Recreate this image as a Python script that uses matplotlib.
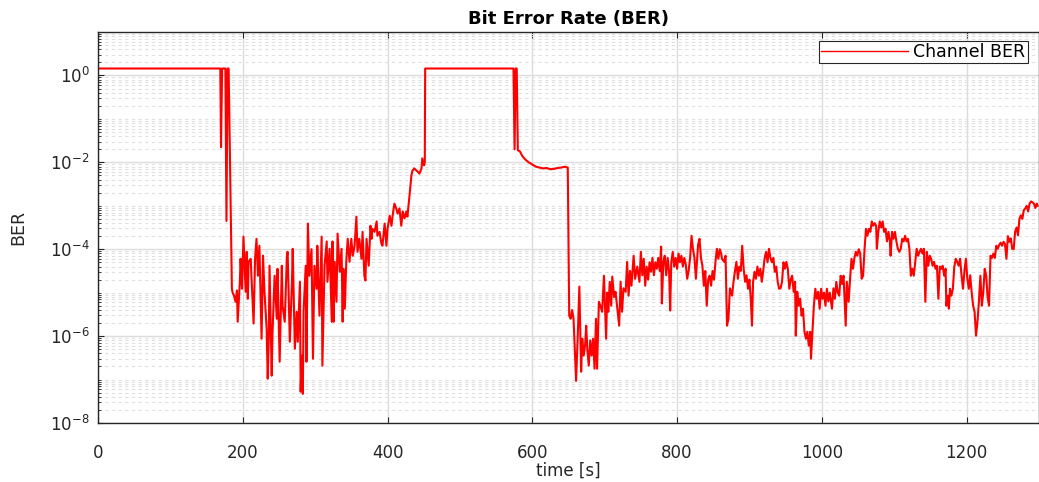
import numpy as np
import matplotlib.pyplot as plt
from matplotlib.ticker import LogLocator, NullFormatter, FixedLocator

# BER trace: (time [s], log10 BER)
seg_start = [(0, 0.16), (169, 0.16), (170, -1.65), (171.5, 0.16), (176, 0.16),
             (177.5, -3.35), (179, 0.16), (180.5, 0.16)]

seg_dip1 = [(185, -4.91), (186, -5.0), (188, -5.07), (190, -5.21), (192, -4.95),
            (193, -5.67), (196, -4.75), (197, -4.22), (199, -4.91), (201, -3.71),
            (204, -4.98), (205.5, -4.06), (207, -5.14), (208, -4.29), (211, -4.22),
            (212, -4.61), (215, -5.71), (217, -4.22), (219, -3.76), (221, -4.61),
            (223, -3.92), (226, -6.06), (228, -4.15), (230, -4.98), (233, -5.83),
            (234.5, -6.98), (236, -5.99), (237, -4.38), (240, -6.91), (241, -5.99),
            (244, -4.61), (247, -5.6), (248, -4.45), (251, -6.59), (254, -4.38),
            (255, -5.3), (258, -5.67), (261, -4.15), (262, -4.06), (265, -6.13),
            (268, -4.75), (269, -3.99), (272, -6.29), (274.5, -5.44), (276, -6.13),
            (279, -4.75), (280, -7.28), (281.5, -6.45), (283, -7.33), (284, -5.44),
            (287, -4.38), (288, -6.59), (290, -3.41), (292, -4.61), (295, -4.0),
            (297, -6.52), (299, -4.38), (302, -4.91), (303, -3.92), (306, -5.53),
            (309, -3.71), (310, -6.68), (313, -4.38), (316, -3.82), (317, -4.75),
            (320, -3.99), (323, -5.67), (324, -3.82), (325.5, -5.67), (327, -4.29),
            (329.5, -5.21), (331, -3.64), (334, -4.52), (336.5, -3.99), (338, -5.67),
            (339, -4.45), (341, -5.37), (343, -4.29), (345, -3.76), (347.5, -4.29),
            (350, -3.76), (352, -4.15), (354.5, -3.92), (357, -3.25), (358.5, -4.06),
            (361, -3.76), (364, -4.22), (365.5, -3.6), (368, -4.61), (369.5, -4.72),
            (371, -3.76), (374, -4.38), (376.5, -3.46), (378, -3.76), (379, -3.53),
            (382, -3.6), (385, -3.36), (386, -3.69), (389, -3.6), (391.5, -3.87),
            (393, -3.92), (396, -3.41), (398.5, -3.92), (400, -3.53), (403, -3.23),
            (405.5, -3.46), (407, -3.23), (409.5, -2.95), (412, -3.06), (414, -3.18),
            (416.5, -3.06), (419, -3.46), (421, -3.13), (423.5, -3.29), (426, -3.13),
            (427.5, -3.25), (430, -2.83), (433, -2.30), (434.5, -2.19), (437, -2.14),
            (440, -2.19), (441.5, -2.21), (444, -2.26), (447, -2.14), (448, -1.91),
            (450.5, -2.07), (451.5, -2.0)]

seg_outage2 = [(452, 0.16), (574, 0.16), (575.5, -1.7), (577, 0.16), (578.5, 0.16),
               (580, -1.72), (583, -1.75), (586, -1.85), (590, -1.93), (595, -2.0),
               (600, -2.05), (605, -2.1), (610, -2.12), (615, -2.14), (620, -2.13),
               (625, -2.16), (630, -2.15), (635, -2.13), (640, -2.12), (645, -2.1),
               (649, -2.12)]

seg_dip2 = [(651, -5.53), (653, -5.6), (655, -5.4), (657, -5.6), (660.5, -7.03),
            (663, -5.9), (665, -4.86), (667.5, -6.82), (669, -6.06), (671, -6.45),
            (673, -6.2), (674.5, -5.76), (676, -6.3), (678, -6.68), (680, -6.1),
            (682, -6.45), (684, -6.06), (686, -6.75), (688, -5.6), (689.5, -6.75),
            (692, -5.21), (694, -5.3), (696.5, -5.44), (699, -4.61), (702, -6.06),
            (703.5, -5.0), (705, -5.44), (707, -4.75), (709, -5.3), (710.5, -4.63),
            (713, -5.1), (715, -4.98), (717, -5.3), (720, -5.76), (722, -4.75),
            (724, -5.44), (726, -4.9), (729, -4.98), (731, -4.29), (733, -5.07),
            (735, -4.5), (737, -4.84), (740, -4.15), (742, -4.68), (745, -4.4),
            (748, -4.75), (750, -4.06), (752, -4.6), (754, -4.22), (756, -4.84),
            (758, -4.4), (760, -4.7), (762, -4.3), (764, -4.52), (766, -4.2),
            (768, -4.6), (770, -4.3), (772, -4.45), (774, -4.2), (776, -4.5),
            (778, -3.94), (779, -5.25), (781, -4.3), (783, -4.15), (785, -4.6),
            (787, -4.2), (789, -4.52), (790.5, -5.41), (792, -4.3), (794, -4.06),
            (796, -4.4), (798, -4.2), (800, -4.45), (802, -4.1), (804, -4.3),
            (806, -4.15), (808, -4.4), (810, -4.2), (812, -4.35), (814, -4.68),
            (816, -4.5), (818, -4.2), (820, -3.69), (822, -4.0), (824, -4.2),
            (826, -4.68), (829, -3.9), (831, -3.76), (833, -4.2), (835, -4.38),
            (837, -4.84), (839, -4.5), (841, -5.3), (843, -4.7), (845, -4.61),
            (847, -4.84), (849, -4.5), (851, -4.7), (853, -4.3), (855, -3.99),
            (857, -4.22), (859, -4.0), (861, -4.1), (862, -4.22), (865, -4.29),
            (867, -4.15), (869, -5.76), (871, -5.6), (873, -4.9), (876, -5.07),
            (878, -4.75), (880, -4.5), (882, -4.29), (884, -4.68), (886, -4.4),
            (888, -4.5), (890, -3.92), (892, -4.45), (894, -4.75), (896, -4.6),
            (898, -4.91), (900, -4.7), (902, -5.2), (903.5, -5.76), (905, -4.75),
            (907, -4.52), (909, -4.68), (911, -4.4), (913, -4.61), (915, -4.45),
            (917, -4.75), (919, -4.5), (921, -4.2), (923, -4.06), (925, -4.3),
            (927, -3.99), (929, -4.2), (931, -4.3), (933, -4.2), (935, -4.52),
            (937, -4.4), (939, -4.75), (941, -4.91), (943, -4.9), (945, -4.75),
            (947, -4.3), (949, -4.45), (951, -4.29), (953, -4.45), (955, -4.91),
            (957, -4.7), (959, -4.61), (961, -4.98), (963, -4.75), (964, -5.99),
            (966, -4.98), (968, -5.3), (970, -5.14), (972, -5.53), (974, -5.37),
            (976, -5.9), (978, -6.06), (980, -5.9), (982, -6.22), (984, -5.9),
            (985, -6.52), (986.5, -6.06), (989, -5.3), (991, -4.91), (993, -5.14),
            (995, -4.98), (997, -5.37), (999, -4.91), (1001, -5.14), (1003, -5.0),
            (1005, -5.3), (1007, -4.91), (1009, -5.2), (1011, -5.0), (1014, -5.37),
            (1016, -4.9), (1018, -5.14), (1020, -4.75), (1022, -5.0), (1024, -5.07),
            (1026, -4.61), (1028, -4.8), (1030, -4.61), (1033, -5.76), (1034.5, -4.75)]

seg_tail = [(1037, -5.21), (1039, -4.68), (1041, -4.22), (1043, -4.45), (1045, -4.2),
            (1047, -4.06), (1049, -4.15), (1051, -4.0), (1053, -4.1), (1055, -4.68),
            (1057, -4.61), (1059, -4.0), (1061, -3.53), (1063, -3.69), (1065, -3.53),
            (1067, -3.6), (1069, -3.36), (1071, -3.46), (1073, -3.4), (1075, -3.46),
            (1076, -3.99), (1078, -3.6), (1080, -3.36), (1082, -3.5), (1084, -3.36),
            (1086, -3.6), (1088, -3.53), (1090, -3.82), (1092, -3.6), (1094, -3.82),
            (1095, -4.15), (1097, -3.6), (1099, -3.76), (1101, -3.6), (1103, -3.82),
            (1105, -3.99), (1107, -4.06), (1109, -3.99), (1111, -3.76), (1113, -3.82),
            (1115, -3.69), (1117, -3.82), (1119, -3.76), (1121, -4.0), (1123, -4.61),
            (1125, -4.45), (1127, -4.61), (1129, -4.3), (1131, -3.99), (1133, -4.15),
            (1135, -4.06), (1137, -3.99), (1139, -4.1), (1141, -3.99), (1143, -5.21),
            (1145, -4.06), (1147, -4.38), (1149, -4.15), (1151, -4.22), (1153, -4.38),
            (1155, -4.29), (1157, -4.45), (1159, -4.38), (1161, -5.14), (1163, -4.4),
            (1165, -4.45), (1167, -4.38), (1169, -4.61), (1171, -4.45), (1172, -5.3),
            (1174, -5.07), (1175.5, -5.37), (1177, -4.91), (1179, -5.07), (1181, -4.91),
            (1183, -4.4), (1185, -4.22), (1187, -4.29), (1189, -4.38), (1191, -4.22),
            (1193, -4.61), (1195, -4.91), (1197, -4.5), (1199, -4.22), (1201, -4.68),
            (1203, -4.91), (1205, -4.6), (1207, -5.0), (1209, -5.3), (1211, -5.44),
            (1213, -5.99), (1215, -5.67), (1217, -5.2), (1219, -4.61), (1221, -5.3),
            (1223, -5.0), (1225, -4.45), (1227, -4.6), (1229, -5.1), (1231, -5.3),
            (1233, -4.15), (1235, -4.2), (1237, -4.1), (1239, -4.2), (1241, -3.92),
            (1243, -3.99), (1245, -3.9), (1247, -3.85), (1249, -3.92), (1251, -3.83),
            (1253, -3.88), (1255, -4.22), (1257, -3.7), (1259, -3.83), (1261, -3.75),
            (1263, -3.99), (1265, -4.0), (1267, -3.6), (1269, -3.5), (1271, -3.68),
            (1273, -3.3), (1275, -3.22), (1277, -3.3), (1279, -3.1), (1281, -3.06),
            (1283, -3.0), (1285, -3.13), (1287, -2.95), (1289, -2.9), (1291, -2.92),
            (1293, -2.95), (1295, -3.05), (1297, -2.95), (1298, -3.0)]

x_ticks = [0, 200, 400, 600, 800, 1000, 1200]
y_ticks = [1e-8, 1e-6, 1e-4, 1e-2, 1e0]

trace = seg_start + seg_dip1 + seg_outage2 + seg_dip2 + seg_tail
time_s = np.array([p[0] for p in trace])
ber = 10.0 ** np.array([p[1] for p in trace])

plt.rcParams['font.family'] = 'DejaVu Sans'
fig = plt.figure(figsize=(10.39, 4.82), dpi=100)
ax = fig.add_axes([0.0943, 0.1224, 0.9057, 0.8112])

ax.plot(time_s, ber, color='#ff0000', linewidth=1.5, label='Channel BER')

ax.set_yscale('log')
ax.set_xlim(0, 1300)
ax.set_ylim(1e-8, 1e1)
ax.set_xticks(x_ticks)
ax.yaxis.set_major_locator(FixedLocator(y_ticks))
ax.yaxis.set_minor_locator(LogLocator(base=10, subs=np.arange(1, 10), numticks=100))
ax.yaxis.set_minor_formatter(NullFormatter())

ax.grid(True, which='major', color='#dcdcdc', linewidth=1.0, linestyle='-')
ax.grid(True, which='minor', axis='y', color='#e0e0e0', linewidth=0.8, linestyle=(0, (3, 3)))
ax.set_axisbelow(True)

ax.tick_params(which='both', direction='in', top=True, colors='#262626', labelsize=12)
ax.tick_params(which='major', length=4)
ax.tick_params(which='minor', length=2.5)
ax.tick_params(axis='x', which='major', pad=15)
ax.tick_params(axis='y', which='major', pad=6)
for side in ['left', 'bottom', 'top', 'right']:
    ax.spines[side].set_color('#262626')
    ax.spines[side].set_linewidth(1.0)

ax.set_title('Bit Error Rate (BER)', fontsize=13, fontweight='bold', pad=6)
ax.set_xlabel('time [s]', fontsize=12, color='#262626', labelpad=0)
ax.set_ylabel('BER', fontsize=12.5, color='#262626', labelpad=16)

leg = ax.legend(loc='upper right', bbox_to_anchor=(0.988, 0.978), borderaxespad=0,
                fontsize=12.5, handlelength=5.0, borderpad=0.12, handletextpad=0.3,
                fancybox=False, framealpha=1.0, edgecolor='#262626')
leg.get_frame().set_linewidth(0.8)
leg.get_lines()[0].set_linewidth(1.0)

fig.savefig('out.png', dpi=100)
